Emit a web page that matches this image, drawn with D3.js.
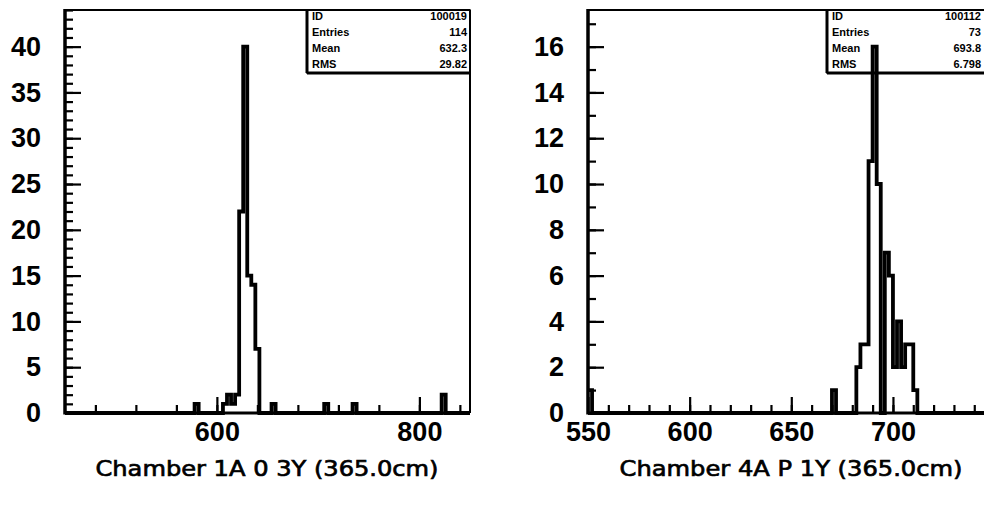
<!DOCTYPE html>
<html><head><meta charset="utf-8">
<script src="https://cdn.jsdelivr.net/npm/d3@7/dist/d3.min.js"></script>
<style>body{margin:0;background:#fff}svg{display:block}</style>
</head><body><svg id="c" width="984" height="508"></svg>
<script>
// ---------------- data ----------------
const leftTitle = "Chamber 1A 0 3Y (365.0cm)";
const rightTitle = "Chamber 4A P 1Y (365.0cm)";
const leftBinLow  = [578, 606, 610, 614, 618, 622, 626, 630, 634, 638, 654, 706, 734, 822];
const leftCounts  = [1,   1,   2,   1,   2,   22,  40,  15,  14,  7,   1,   1,   1,   2];
const rightBinLow = [550, 670, 682, 684, 686, 688, 690, 692, 696, 698, 700, 702, 704, 706, 708, 710];
const rightCounts = [1,   1,   2,   3,   3,   11,  16,  10,  7,   6,   2,   4,   2,   3,   3,   1];
const leftYTickLabels = [0, 5, 10, 15, 20, 25, 30, 35, 40];
const leftXTickLabels = [600, 800];
const rightYTickLabels = [0, 2, 4, 6, 8, 10, 12, 14, 16];
const rightXTickLabels = [550, 600, 650, 700];
const statsLabels = ["ID", "Entries", "Mean", "RMS"];
const leftStatsValues = ["100019", "114", "632.3", "29.82"];
const rightStatsValues = ["100112", "73", "693.8", "6.798"];

// ---------------- panels ----------------
const panels = [
  {x0: 65, x1: 470, xDom: [450, 850], binW: 4, yDom: [0, 44], yMinor: 1, yMajor: leftYTickLabels,
   xMinorStep: 40, xMajor: leftXTickLabels, binLow: leftBinLow, counts: leftCounts,
   title: leftTitle, titleX: 267, stats: leftStatsValues, boxX: 307, boxR: 470},
  {x0: 588, x1: 994.6, xDom: [550, 750], binW: 2, yDom: [0, 17.6], yMinor: 1, yMajor: rightYTickLabels,
   xMinorStep: 10, xMajor: rightXTickLabels, binLow: rightBinLow, counts: rightCounts,
   title: rightTitle, titleX: 791, stats: rightStatsValues, boxX: 827, boxR: 994.6}
];
const yTop = 10, yBase = 413;
const svg = d3.select("#c");

panels.forEach(p => {
  const x = d3.scaleLinear().domain(p.xDom).range([p.x0, p.x1]);
  const y = d3.scaleLinear().domain(p.yDom).range([yBase, yTop]);
  const g = svg.append("g");

  // frame
  g.append("line").attr("x1", p.x0).attr("x2", p.x1).attr("y1", yTop).attr("y2", yTop)
    .attr("stroke", "#000").attr("stroke-width", 2);
  g.append("line").attr("x1", p.x1).attr("x2", p.x1).attr("y1", yTop).attr("y2", yBase)
    .attr("stroke", "#000").attr("stroke-width", 2);

  // y ticks
  const yMinorVals = d3.range(p.yDom[0], Math.floor(p.yDom[1]) + 1, p.yMinor);
  g.append("g").attr("transform", `translate(${p.x0},0)`)
    .call(d3.axisLeft(y).tickValues(yMinorVals).tickSize(-8).tickFormat(""))
    .call(a => { a.select(".domain").remove(); a.selectAll("line").attr("stroke-width", 2.2); });
  g.append("g").attr("transform", `translate(${p.x0},0)`)
    .call(d3.axisLeft(y).tickValues(p.yMajor).tickSize(-16).tickPadding(24).tickFormat(d3.format("d")))
    .call(a => {
      a.select(".domain").remove();
      a.selectAll("line").attr("stroke-width", 2.2);
      a.selectAll("text").attr("font-family", "Liberation Sans, Arial, sans-serif")
        .attr("font-weight", "bold").attr("font-size", 27).attr("fill", "#000");
    });

  // x ticks
  const first = Math.ceil((p.xDom[0] + 1e-9) / p.xMinorStep) * p.xMinorStep;
  const xMinorVals = d3.range(first, p.xDom[1], p.xMinorStep);
  g.append("g").attr("transform", `translate(0,${yBase})`)
    .call(d3.axisBottom(x).tickValues(xMinorVals).tickSize(-8).tickFormat(""))
    .call(a => { a.select(".domain").remove(); a.selectAll("line").attr("stroke-width", 2.2); });
  g.append("g").attr("transform", `translate(0,${yBase})`)
    .call(d3.axisBottom(x).tickValues(p.xMajor).tickSize(-16).tickPadding(9).tickFormat(d3.format("d")))
    .call(a => {
      a.select(".domain").remove();
      a.selectAll("line").attr("stroke-width", 2.2);
      a.selectAll("text").attr("font-family", "Liberation Sans, Arial, sans-serif")
        .attr("font-weight", "bold").attr("font-size", 27).attr("fill", "#000");
    });

  // axes (left & bottom, thick)
  g.append("line").attr("x1", p.x0).attr("x2", p.x0).attr("y1", yTop - 1).attr("y2", yBase + 1.5)
    .attr("stroke", "#000").attr("stroke-width", 3.5);
  g.append("line").attr("x1", p.x0).attr("x2", p.x1).attr("y1", yBase).attr("y2", yBase)
    .attr("stroke", "#000").attr("stroke-width", 3);

  // stats box
  const boxB = 73;
  g.append("rect").attr("x", p.boxX).attr("y", yTop).attr("width", p.boxR - p.boxX).attr("height", boxB - yTop)
    .attr("fill", "none").attr("stroke", "#000").attr("stroke-width", 1.5);
  g.append("line").attr("x1", p.boxX).attr("x2", p.boxX).attr("y1", yTop).attr("y2", boxB)
    .attr("stroke", "#000").attr("stroke-width", 3);
  g.append("line").attr("x1", p.boxX).attr("x2", p.boxR).attr("y1", boxB).attr("y2", boxB)
    .attr("stroke", "#000").attr("stroke-width", 3);
  const rowY = [16, 32, 48, 64];
  const valR = Math.min(p.boxR, 984) - 3;
  statsLabels.forEach((lab, i) => {
    g.append("text").attr("x", p.boxX + 5).attr("y", rowY[i]).attr("dy", "0.35em")
      .attr("font-family", "Liberation Sans, Arial, sans-serif").attr("font-weight", "bold")
      .attr("font-size", 11).text(lab);
    g.append("text").attr("x", valR).attr("y", rowY[i]).attr("dy", "0.35em").attr("text-anchor", "end")
      .attr("font-family", "Liberation Sans, Arial, sans-serif").attr("font-weight", "bold")
      .attr("font-size", 11).text(p.stats[i]);
  });

  // histogram outline
  const nb = Math.round((p.xDom[1] - p.xDom[0]) / p.binW);
  const cmap = new Map(p.binLow.map((b, i) => [b, p.counts[i]]));
  const pts = d3.range(nb).map(i => {
    const lo = p.xDom[0] + i * p.binW;
    return [lo, cmap.get(lo) || 0];
  });
  pts.push([p.xDom[1], pts[pts.length - 1][1]]);
  const line = d3.line().x(d => x(d[0])).y(d => y(d[1])).curve(d3.curveStepAfter);
  g.append("path").attr("d", line(pts)).attr("fill", "none").attr("stroke", "#000")
    .attr("stroke-width", 3.8).attr("stroke-linejoin", "miter");

  // title
  g.append("text").attr("x", p.titleX).attr("y", 468).attr("dy", "0.35em").attr("text-anchor", "middle")
    .attr("font-family", "DejaVu Sans, sans-serif").attr("font-size", 22)
    .attr("stroke", "#000").attr("stroke-width", 0.7)
    .attr("textLength", 343).attr("lengthAdjust", "spacingAndGlyphs").text(p.title);
});
</script></body></html>
